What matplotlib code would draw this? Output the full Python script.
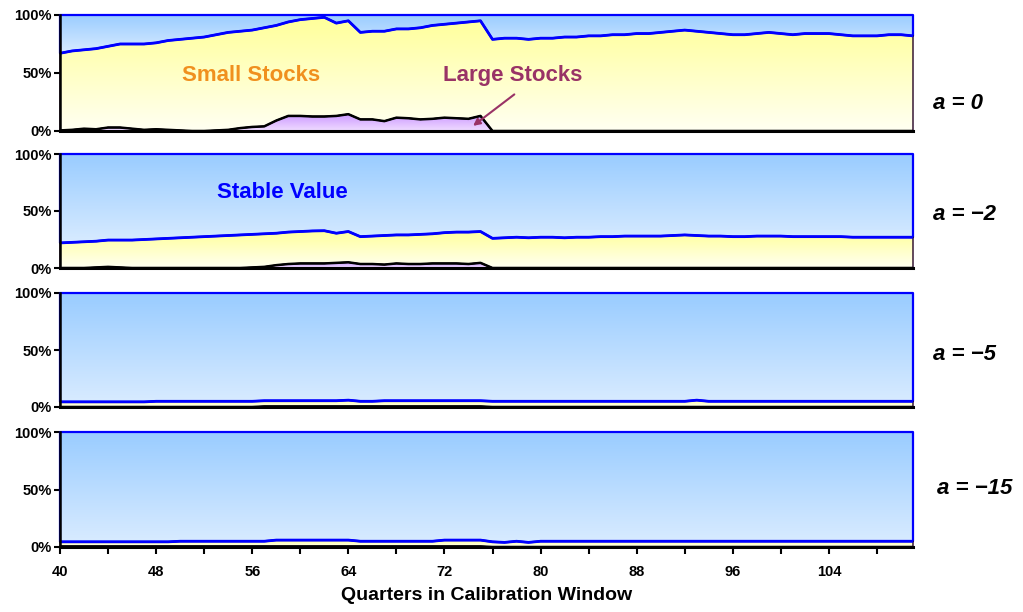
import numpy as np
import matplotlib
matplotlib.use("Agg")
import matplotlib.pyplot as plt
from matplotlib.colors import LinearSegmentedColormap

plt.rcParams['font.family'] = ['Liberation Sans', 'DejaVu Sans']
plt.rcParams['font.weight'] = 'bold'

quarters = list(range(40, 112))

# shares in percent, one list per panel (large stocks and stable value; small stocks is the rest)
large_a0 = [0.5, 1, 2, 1.5, 3, 3, 2, 1, 1.5, 1, 0.5, 0,
            0, 0.5, 1, 2.5, 3.5, 4, 9, 13, 13, 12.5, 12.5, 13,
            14.5, 10, 10, 8.5, 11.5, 11, 10, 10.5, 11.5, 11, 10.5, 13,
            0, 0, 0, 0, 0, 0, 0, 0, 0, 0, 0, 0,
            0, 0, 0, 0, 0, 0, 0, 0, 0, 0, 0, 0,
            0, 0, 0, 0, 0, 0, 0, 0, 0, 0, 0, 0]
stable_a0 = [33, 31, 30, 29, 27, 25, 25, 25, 24, 22, 21, 20,
             19, 17, 15, 14, 13, 11, 9, 6, 4, 3, 2, 7,
             5, 15, 14, 14, 12, 12, 11, 9, 8, 7, 6, 5,
             21, 20, 20, 21, 20, 20, 19, 19, 18, 18, 17, 17,
             16, 16, 15, 14, 13, 14, 15, 16, 17, 17, 16, 15,
             16, 17, 16, 16, 16, 17, 18, 18, 18, 17, 17, 18]

large_a2 = [0, 0, 0, 0.5, 1, 0.5, 0, 0, 0, 0, 0, 0,
            0, 0, 0, 0, 0.5, 1, 2.5, 3.5, 4, 4, 4, 4.5,
            5, 3.5, 3.5, 3, 4, 3.5, 3.5, 4, 4, 4, 3.5, 4.5,
            0, 0, 0, 0, 0, 0, 0, 0, 0, 0, 0, 0,
            0, 0, 0, 0, 0, 0, 0, 0, 0, 0, 0, 0,
            0, 0, 0, 0, 0, 0, 0, 0, 0, 0, 0, 0]
stable_a2 = [78, 77.5, 77, 76.5, 75.5, 75.5, 75.5, 75, 74.5, 74, 73.5, 73,
             72.5, 72, 71.5, 71, 70.5, 70, 69.5, 68.5, 68, 67.5, 67.3, 69.5,
             68, 72.5, 72, 71.5, 71, 71, 70.5, 70, 69, 68.5, 68.5, 68,
             74, 73.5, 73, 73.5, 73, 73, 73.5, 73, 73, 72.5, 72.5, 72,
             72, 72, 72, 71.5, 71, 71.5, 72, 72, 72.5, 72.5, 72, 72,
             72, 72.5, 72.5, 72.5, 72.5, 72.5, 73, 73, 73, 73, 73, 73]

large_a5 = [0, 0, 0, 0, 0, 0, 0, 0, 0, 0, 0, 0,
            0, 0, 0, 0, 0, 0.5, 0.5, 0.5, 0.5, 0.5, 0.5, 0.5,
            0.5, 0.5, 0.5, 0.5, 0.5, 0.5, 0.5, 0.5, 0.5, 0.5, 0.5, 0.5,
            0, 0, 0, 0, 0, 0, 0, 0, 0, 0, 0, 0,
            0, 0, 0, 0, 0, 0, 0, 0, 0, 0, 0, 0,
            0, 0, 0, 0, 0, 0, 0, 0, 0, 0, 0, 0]
stable_a5 = [95.5, 95.5, 95.5, 95.5, 95.5, 95.5, 95.5, 95.5, 95, 95, 95, 95,
             95, 95, 95, 95, 95, 94.5, 94.5, 94.5, 94.5, 94.5, 94.5, 94.5,
             94, 95, 95, 94.5, 94.5, 94.5, 94.5, 94.5, 94.5, 94.5, 94.5, 94.5,
             95, 95, 95, 95, 95, 95, 95, 95, 95, 95, 95, 95,
             95, 95, 95, 95, 95, 94, 95, 95, 95, 95, 95, 95,
             95, 95, 95, 95, 95, 95, 95, 95, 95, 95, 95, 95]

large_a15 = [0.5] * 36 + [0] * 36
stable_a15 = [95.5, 95.5, 95.5, 95.5, 95.5, 95.5, 95.5, 95.5, 95.5, 95.5, 95, 95,
              95, 95, 95, 95, 95, 95, 94, 94, 94, 94, 94, 94,
              94, 95, 95, 95, 95, 95, 95, 95, 94, 94, 94, 94,
              95.5, 96, 95, 96, 95, 95, 95, 95, 95, 95, 95, 95,
              95, 95, 95, 95, 95, 95, 95, 95, 95, 95, 95, 95,
              95, 95, 95, 95, 95, 95, 95, 95, 95, 95, 95, 95]

panels = [
    ("a = 0", large_a0, stable_a0),
    ("a = \u22122", large_a2, stable_a2),
    ("a = \u22125", large_a5, stable_a5),
    ("a = \u221215", large_a15, stable_a15),
]

blue_cm = LinearSegmentedColormap.from_list("sv", ["#d8ebff", "#99ccff"])
yellow_cm = LinearSegmentedColormap.from_list("ss", ["#fffff2", "#ffff99"])
purple_cm = LinearSegmentedColormap.from_list("ls", ["#f0dcff", "#cc99ff"])

fig = plt.figure(figsize=(10.23, 6.12), dpi=100)

tops = [15, 154, 293, 432]
bottoms = [131, 268, 407, 547]
label_y = [103, 215, 354, 488]
label_x = [933, 933, 933, 937]


def gradient_fill(ax, x, lo, hi, cmap, edge, lw):
    coll = ax.fill_between(x, lo, hi, facecolor="none", edgecolor=edge,
                           linewidth=lw, zorder=3, clip_on=False)
    path = coll.get_paths()[0]
    ymin, ymax = float(np.min(lo)), float(np.max(hi))
    if ymax - ymin <= 0:
        return
    grad = np.linspace(0, 1, 256).reshape(-1, 1)
    im = ax.imshow(grad, cmap=cmap, origin="lower", aspect="auto",
                   extent=(x[0], x[-1], ymin, ymax), zorder=1)
    im.set_clip_path(path, ax.transData)


x = np.array(quarters, dtype=float)
for i, (name, large, stable) in enumerate(panels):
    t, b = tops[i], bottoms[i]
    ax = fig.add_axes([60 / 1023, 1 - b / 612, (913 - 60) / 1023, (b - t) / 612])
    lg = np.array(large) / 100
    sv = np.array(stable) / 100
    small_top = 1 - sv

    gradient_fill(ax, x, small_top, np.ones_like(x), blue_cm, "#0000ff", 1.6)
    gradient_fill(ax, x, lg, small_top, yellow_cm, "#220022", 1.0)
    gradient_fill(ax, x, np.zeros_like(x), lg, purple_cm, "#000000", 1.0)
    ax.plot(x, small_top, color="#0000ff", lw=2.0, zorder=4)
    ax.plot(x, lg, color="#000000", lw=1.8, zorder=4)

    ax.set_xlim(40, 111)
    ax.set_ylim(0, 1)
    for s in ["top", "right"]:
        ax.spines[s].set_visible(False)
    ax.spines["left"].set_linewidth(1.8)
    ax.spines["bottom"].set_linewidth(2.2)
    ax.spines["left"].set_zorder(5)
    ax.spines["bottom"].set_zorder(5)
    ax.set_yticks([0, 0.5, 1])
    ax.set_yticklabels(["0%", "50%", "100%"])
    ax.tick_params(axis="y", direction="out", length=4, width=1.5, labelsize=10.5, pad=2)

    if i == 3:
        ax.set_xticks(range(40, 112, 4))
        ax.set_xticklabels([str(q) if (q - 40) % 8 == 0 else "" for q in range(40, 112, 4)])
        ax.tick_params(axis="x", direction="out", length=5, width=1.5, labelsize=10.5, pad=8)
        ax.set_xlabel("Quarters in Calibration Window", fontsize=14, fontweight="bold", labelpad=6)
    else:
        ax.set_xticks([])

    fig.text(label_x[i] / 1023, 1 - label_y[i] / 612, name, fontsize=16, fontweight="bold",
             fontstyle="italic", ha="left", va="center")

    if i == 0:
        ax.text(55.9, 0.48, "Small Stocks", color="#f0901e", fontsize=16,
                fontweight="bold", ha="center", va="center", zorder=6)
        ax.text(77.7, 0.48, "Large Stocks", color="#993366", fontsize=16,
                fontweight="bold", ha="center", va="center", zorder=6)
        ax.annotate("", xy=(74.2, 0.03), xytext=(78.0, 0.33),
                    arrowprops=dict(arrowstyle="-|>", color="#993366", lw=1.5),
                    zorder=6)
    if i == 1:
        ax.text(58.5, 0.66, "Stable Value", color="#0000ff", fontsize=16,
                fontweight="bold", ha="center", va="center", zorder=6)

fig.savefig("out.png", dpi=100)
